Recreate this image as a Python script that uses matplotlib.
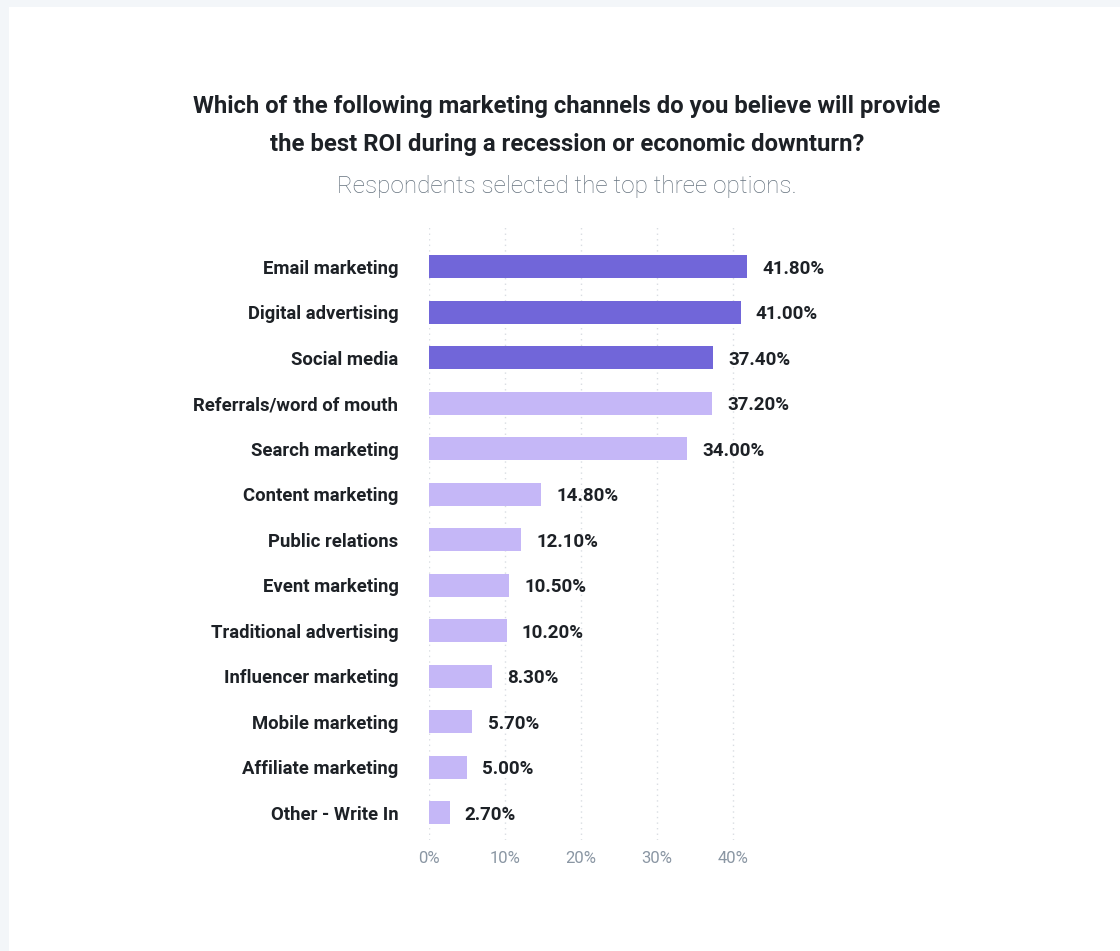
import matplotlib.pyplot as plt
from matplotlib.patches import Rectangle

plt.rcParams['font.family'] = ['Roboto', 'DejaVu Sans']

# Survey results
channels = [
    "Email marketing", "Digital advertising", "Social media",
    "Referrals/word of mouth", "Search marketing", "Content marketing",
    "Public relations", "Event marketing", "Traditional advertising",
    "Influencer marketing", "Mobile marketing", "Affiliate marketing",
    "Other - Write In",
]
shares = [41.8, 41.0, 37.4, 37.2, 34.0, 14.8, 12.1, 10.5, 10.2, 8.3, 5.7, 5.0, 2.7]
top_n = 3  # the leading channels get the darker colour

xticks = [0, 10, 20, 30, 40]

dark = "#7166d9"
light = "#c5b7f7"
text_col = "#1d2126"
grey = "#8a96a3"

fig = plt.figure(figsize=(11.2, 9.51), dpi=100)
fig.patch.set_facecolor("#f3f6f9")
# white card
fig.patches.append(Rectangle((9 / 1120, 0), 1, 1 - 7 / 951, transform=fig.transFigure,
                             facecolor="white", edgecolor="none", zorder=-1))

ax = fig.add_axes([429 / 1120, 1 - 840 / 951, 380 / 1120, 615 / 951])
ax.set_facecolor("none")

pos = list(range(len(channels)))
colors = [dark if i < top_n else light for i in pos]
ax.barh(pos, shares, height=0.5, color=colors, zorder=2)

for y, v in zip(pos, shares):
    ax.annotate(f"{v:.2f}%", (v, y), xytext=(11, 0), textcoords="offset points",
                va="center_baseline", ha="left", fontsize=13.5, fontweight="bold", color=text_col)

ax.set_ylim(12.6, -0.92)
ax.set_xlim(0, 50)
ax.set_yticks(pos)
ax.set_yticklabels(channels, fontsize=13.3, fontweight="bold", color=text_col,
                   va="center_baseline")
ax.set_xticks(xticks)
ax.set_xticklabels([f"{t}%" for t in xticks], fontsize=12, color=grey)
ax.tick_params(axis="y", length=0, pad=22)
ax.tick_params(axis="x", length=0, pad=8)
ax.grid(axis="x", color="#d9dde2", linestyle=(0, (1, 3)), linewidth=1, zorder=0)
for s in ax.spines.values():
    s.set_visible(False)

fig.text(567 / 1120, 1 - 107 / 951, "Which of the following marketing channels do you believe will provide",
         ha="center", va="center", fontsize=17.2, fontweight="bold", color=text_col)
fig.text(567 / 1120, 1 - 145 / 951, "the best ROI during a recession or economic downturn?",
         ha="center", va="center", fontsize=17.2, fontweight="bold", color=text_col)
fig.text(567 / 1120, 1 - 187 / 951, "Respondents selected the top three options.",
         ha="center", va="center", fontsize=17.5, fontweight="light", color="#65727e")

fig.savefig("out.png", dpi=100, facecolor=fig.get_facecolor())
